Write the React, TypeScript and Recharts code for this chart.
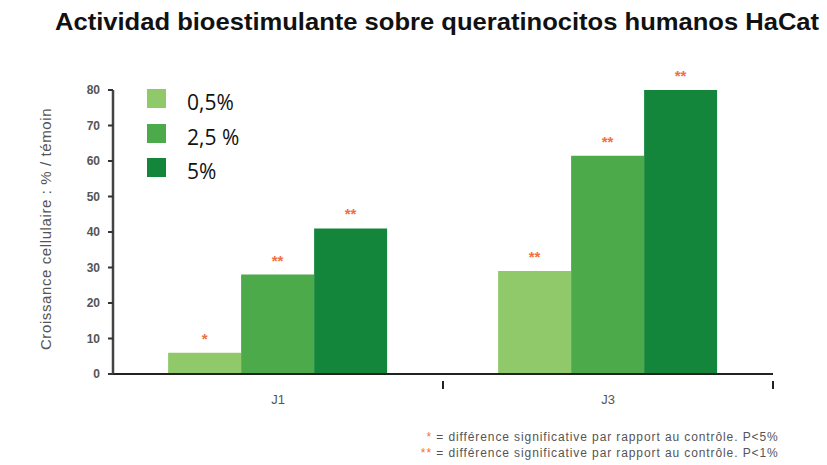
import { BarChart, Bar, XAxis, YAxis, LabelList } from 'recharts';

const days = ['J1', 'J3'];
const dose05 = [6, 29];
const dose25 = [28, 61.5];
const dose5 = [41, 80];
const sig05 = ['*', '**'];
const sig25 = ['**', '**'];
const sig5 = ['**', '**'];
const yTicks = [0, 10, 20, 30, 40, 50, 60, 70, 80];

const series = [
  { key: 'd05', sig: 's05', name: '0,5%', color: '#8fc96a' },
  { key: 'd25', sig: 's25', name: '2,5 %', color: '#4caa4b' },
  { key: 'd5', sig: 's5', name: '5%', color: '#14863b' },
];

const data = days.map((day, i) => ({
  day,
  d05: dose05[i],
  d25: dose25[i],
  d5: dose5[i],
  s05: sig05[i],
  s25: sig25[i],
  s5: sig5[i],
}));

const ORANGE = '#f07040';
const GREY = '#555';

// category label plus the boundary tick at the right edge of each band
function DayTick(props: any) {
  const { x, y, payload, width, visibleTicksCount } = props;
  const half = width / visibleTicksCount / 2;
  return (
    <g>
      <line x1={x + half} x2={x + half} y1={y - 1} y2={y + 7} stroke="#222" strokeWidth={2} />
      <text x={x} y={y + 22} textAnchor="middle" fill={GREY} fontSize={13}>{payload.value}</text>
    </g>
  );
}

export default function App() {
  return (
    <div style={{ position: 'absolute', left: 0, top: 0, width: 827, height: 465, background: '#fff', fontFamily: '"Liberation Sans", Arial, sans-serif' }}>
      <div style={{ position: 'absolute', left: 55, top: 8, fontSize: 24, fontWeight: 'bold', color: '#111', whiteSpace: 'nowrap', transform: 'scaleX(1.065)', transformOrigin: 'left top' }}>
        Actividad bioestimulante sobre queratinocitos humanos HaCat
      </div>

      <BarChart width={827} height={465} data={data} margin={{ top: 90, right: 54, bottom: 61, left: 53 }} barCategoryGap="16.7%" barGap={0}>
        <XAxis dataKey="day" height={30} axisLine={{ stroke: '#222', strokeWidth: 2 }} tickLine={false} tick={<DayTick />} interval={0} />
        <YAxis domain={[0, 80]} ticks={yTicks} width={60} axisLine={{ stroke: '#444', strokeWidth: 2.5 }} tickLine={{ stroke: '#333', strokeWidth: 2 }} tickSize={5} tickMargin={8} tick={{ fill: GREY, fontSize: 12, fontWeight: 'bold' }} />
        {series.map((s) => (
          <Bar key={s.key} dataKey={s.key} name={s.name} fill={s.color} isAnimationActive={false}>
            <LabelList dataKey={s.sig} position="top" offset={9} fill={ORANGE} fontSize={15} fontWeight="bold" />
          </Bar>
        ))}
      </BarChart>

      <div style={{ position: 'absolute', left: 147, top: 89, fontFamily: '"Open Sans", sans-serif', fontSize: 21, color: '#111' }}>
        {series.map((s) => (
          <div key={s.key} style={{ display: 'flex', alignItems: 'flex-start', height: 34.5 }}>
            <span style={{ width: 19, height: 19, background: s.color, display: 'inline-block', marginRight: 21 }} />
            <span style={{ lineHeight: '29px', marginTop: -1 }}>{s.name}</span>
          </div>
        ))}
      </div>

      <div style={{ position: 'absolute', left: 45, top: 229, transform: 'translate(-50%, -50%) rotate(-90deg)', fontSize: 15, letterSpacing: 0.6, color: GREY, whiteSpace: 'nowrap' }}>
        Croissance cellulaire : % / témoin
      </div>

      <div style={{ position: 'absolute', left: 416, top: 429, fontSize: 12, letterSpacing: 0.9, color: GREY, lineHeight: '16px', whiteSpace: 'nowrap' }}>
        <div><span style={{ color: ORANGE, display: 'inline-block', width: 16, textAlign: 'right' }}>*</span> = différence significative par rapport au contrôle. P&lt;5%</div>
        <div><span style={{ color: ORANGE, display: 'inline-block', width: 16, textAlign: 'right' }}>**</span> = différence significative par rapport au contrôle. P&lt;1%</div>
      </div>
    </div>
  );
}
